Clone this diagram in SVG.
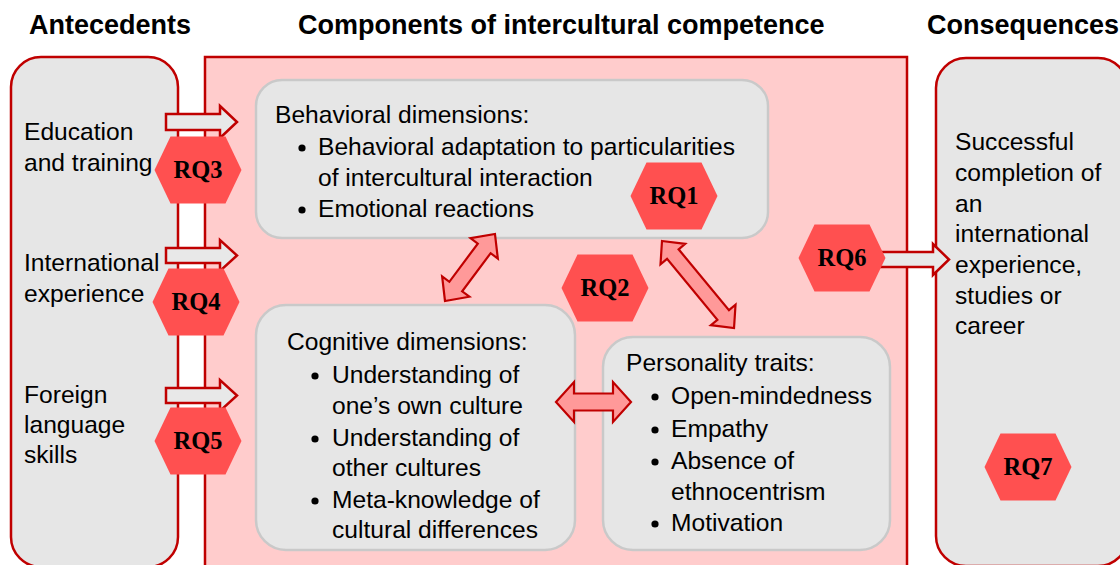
<svg xmlns="http://www.w3.org/2000/svg" width="1120" height="565" viewBox="0 0 1120 565">
<style>
.title{font-family:"Liberation Sans",Arial,sans-serif;font-weight:bold;font-size:27px;fill:#000}
.t{font-family:"Liberation Sans",Arial,sans-serif;font-size:24.6px;fill:#000}
.rq{font-family:"Liberation Serif","Times New Roman",serif;font-weight:bold;font-size:24.5px;fill:#000;text-anchor:middle}
.outer{fill:#E6E6E6;stroke:#C00000;stroke-width:2.5}
.inner{fill:#E6E6E6;stroke:#C9C9C9;stroke-width:2.5}
.hex{fill:#FF5050}
.sarrow{fill:#E8E8E8;stroke:#C00000;stroke-width:2.5;stroke-linejoin:miter}
.darrow{fill:#FF9999;stroke:#C00000;stroke-width:2.2;stroke-linejoin:miter}
.bul{fill:#000}
</style>
<defs>
<polygon id="hexshape" points="-43.5,0 -27.5,-33.5 27.5,-33.5 43.5,0 27.5,33.5 -27.5,33.5"/>
</defs>

<text class="title" x="29" y="34">Antecedents</text>
<text class="title" x="298" y="34">Components of intercultural competence</text>
<text class="title" x="927" y="34">Consequences</text>

<g id="antecedents">
<rect class="outer" x="11" y="57" width="167" height="510" rx="30"/>
<text class="t" x="24" y="140">Education</text>
<text class="t" x="24" y="171">and training</text>
<text class="t" x="24" y="271">International</text>
<text class="t" x="24" y="302">experience</text>
<text class="t" x="24" y="403">Foreign</text>
<text class="t" x="24" y="433">language</text>
<text class="t" x="24" y="463">skills</text>
</g>

<g id="components">
<rect x="205" y="57" width="702" height="530" fill="#FFCCCC" stroke="#C00000" stroke-width="2.5"/>
</g>

<g id="consequences">
<rect class="outer" x="936" y="58" width="192" height="508" rx="30"/>
<text class="t" x="955" y="150">Successful</text>
<text class="t" x="955" y="181">completion of</text>
<text class="t" x="955" y="211.5">an</text>
<text class="t" x="955" y="242">international</text>
<text class="t" x="955" y="273">experience,</text>
<text class="t" x="955" y="303.5">studies or</text>
<text class="t" x="955" y="334">career</text>
</g>

<g id="behavioral">
<rect class="inner" x="256" y="80" width="512" height="158" rx="26"/>
<text class="t" x="275" y="123">Behavioral dimensions:</text>
<circle class="bul" cx="302" cy="148" r="3.6"/>
<text class="t" x="318" y="155">Behavioral adaptation to particularities</text>
<text class="t" x="318" y="186">of intercultural interaction</text>
<circle class="bul" cx="302" cy="210" r="3.6"/>
<text class="t" x="318" y="217">Emotional reactions</text>
</g>

<g id="cognitive">
<rect class="inner" x="256" y="305" width="319" height="245" rx="30"/>
<text class="t" x="287" y="350">Cognitive dimensions:</text>
<circle class="bul" cx="315" cy="376" r="3.6"/>
<text class="t" x="332" y="383">Understanding of</text>
<text class="t" x="332" y="414">one’s own culture</text>
<circle class="bul" cx="315" cy="439" r="3.6"/>
<text class="t" x="332" y="446">Understanding of</text>
<text class="t" x="332" y="476">other cultures</text>
<circle class="bul" cx="315" cy="501" r="3.6"/>
<text class="t" x="332" y="508">Meta-knowledge of</text>
<text class="t" x="332" y="538">cultural differences</text>
</g>

<g id="personality">
<rect class="inner" x="603" y="337" width="287" height="213" rx="30"/>
<text class="t" x="626" y="371">Personality traits:</text>
<circle class="bul" cx="655" cy="397" r="3.6"/>
<text class="t" x="671" y="404">Open-mindedness</text>
<circle class="bul" cx="655" cy="430" r="3.6"/>
<text class="t" x="671" y="437">Empathy</text>
<circle class="bul" cx="655" cy="462" r="3.6"/>
<text class="t" x="671" y="469">Absence of</text>
<text class="t" x="671" y="500">ethnocentrism</text>
<circle class="bul" cx="655" cy="524" r="3.6"/>
<text class="t" x="671" y="531">Motivation</text>
</g>

<g id="connectors">
<polygon class="sarrow" points="166,114 220,114 220,106 237,122 220,138 220,130 166,130"/>
<polygon class="sarrow" points="166,248 220,248 220,240 237,255.5 220,271 220,263 166,263"/>
<polygon class="sarrow" points="166,388 220,388 220,380 237,395.5 220,411 220,403 166,403"/>
<polygon class="sarrow" points="878,252 933,252 933,244 949,259.5 933,275 933,267 878,267"/>
<polygon class="darrow" transform="translate(445,301) rotate(-53.3)" points="0,0 18,-17 18,-8 65.6,-8 65.6,-17 83.6,0 65.6,17 65.6,8 18,8 18,17"/>
<polygon class="darrow" transform="translate(662,241) rotate(50.4)" points="0,0 17,-16 17,-7.5 96,-7.5 96,-16 113,0 96,16 96,7.5 17,7.5 17,16"/>
<polygon class="darrow" points="556,402 574,382 574,393.5 613,393.5 613,382 631,402 613,422 613,410.5 574,410.5 574,422"/>
</g>

<g id="RQ1"><use href="#hexshape" class="hex" x="674" y="196"/><text class="rq" x="674" y="204">RQ1</text></g>
<g id="RQ2"><use href="#hexshape" class="hex" x="605" y="288"/><text class="rq" x="605" y="296">RQ2</text></g>
<g id="RQ3"><use href="#hexshape" class="hex" x="198" y="170"/><text class="rq" x="198" y="178">RQ3</text></g>
<g id="RQ4"><use href="#hexshape" class="hex" x="196" y="302"/><text class="rq" x="196" y="310">RQ4</text></g>
<g id="RQ5"><use href="#hexshape" class="hex" x="198" y="441"/><text class="rq" x="198" y="449">RQ5</text></g>
<g id="RQ6"><use href="#hexshape" class="hex" x="842" y="258"/><text class="rq" x="842" y="266">RQ6</text></g>
<g id="RQ7"><use href="#hexshape" class="hex" x="1028" y="467"/><text class="rq" x="1028" y="475">RQ7</text></g>
</svg>
